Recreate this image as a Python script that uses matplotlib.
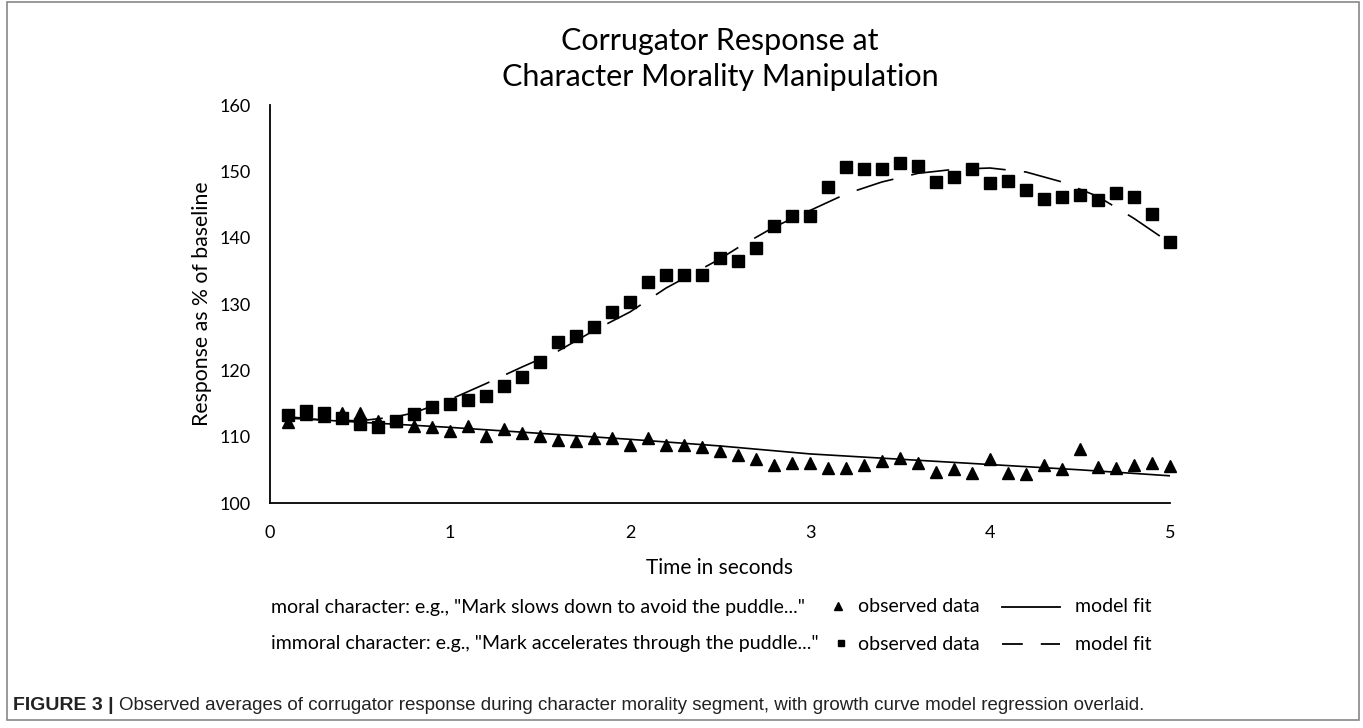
import matplotlib
matplotlib.use("Agg")
import matplotlib.pyplot as plt
from matplotlib.lines import Line2D
from matplotlib.patches import Rectangle

plt.rcParams['font.family'] = ['Lato', 'DejaVu Sans']

# observed averages, sampled every 0.1 s
time_s = [round(0.1 * i, 1) for i in range(1, 51)]

moral_obs = [112.2, 113.4, 113.1, 113.6, 113.6, 112.4, 112.3, 111.6, 111.4, 110.9,
             111.6, 110.1, 111.2, 110.5, 110.1, 109.5, 109.4, 109.75, 109.8, 108.7,
             109.75, 108.7, 108.7, 108.5, 107.9, 107.2, 106.6, 105.7, 106.0, 106.0,
             105.3, 105.3, 105.7, 106.4, 106.8, 106.0, 104.6, 105.2, 104.5, 106.7,
             104.5, 104.4, 105.7, 105.2, 108.2, 105.4, 105.3, 105.7, 106.1, 105.6]

immoral_obs = [113.2, 113.8, 113.5, 112.8, 111.9, 111.4, 112.3, 113.4, 114.4, 115.0,
               115.5, 116.2, 117.7, 119.0, 121.2, 124.2, 125.2, 126.6, 128.8, 130.3,
               133.3, 134.4, 134.4, 134.4, 136.9, 136.5, 138.5, 141.7, 143.2, 143.3,
               147.6, 150.6, 150.4, 150.3, 151.2, 150.8, 148.4, 149.2, 150.3, 148.2,
               148.6, 147.2, 145.8, 146.2, 146.4, 145.7, 146.8, 146.1, 143.5, 139.3]

# model fit curves read at coarser steps
moral_fit_t = [0.1, 1.0, 2.0, 2.5, 3.0, 3.5, 4.0, 4.5, 5.0]
moral_fit = [112.8, 111.4, 109.6, 108.6, 107.4, 106.6, 105.8, 105.0, 104.1]

immoral_fit_t = [0.1, 0.3, 0.5, 0.7, 0.8, 1.0, 1.2, 1.4, 1.6, 1.8, 2.0, 2.2, 2.5,
                 2.6, 2.8, 3.0, 3.2, 3.4, 3.6, 3.8, 4.0, 4.2, 4.4, 4.6, 4.8, 5.0]
immoral_fit = [113.0, 112.5, 112.4, 113.0, 113.6, 115.6, 118.0, 120.5, 122.9, 126.0,
               128.8, 132.4, 136.8, 138.5, 141.6, 144.1, 146.6, 148.4, 149.7, 150.3,
               150.5, 149.9, 148.4, 146.2, 142.9, 139.2]

y_ticks = [100, 110, 120, 130, 140, 150, 160]
x_ticks = [0, 1, 2, 3, 4, 5]

W, H = 1363, 728
fig = plt.figure(figsize=(W / 100, H / 100), dpi=100)

ax = fig.add_axes([270 / W, 1 - 503 / H, 900 / W, 398 / H])
ax.plot(immoral_fit_t, immoral_fit, color='black', lw=1.2, dashes=(23, 11))
ax.plot(moral_fit_t, moral_fit, color='black', lw=1.2)
ax.plot(time_s, moral_obs, ls='none', marker='^', ms=8.5, color='black', clip_on=False)
ax.plot(time_s, immoral_obs, ls='none', marker='s', ms=8, color='black', clip_on=False)

ax.set_xlim(0, 5)
ax.set_ylim(100, 160)
ax.set_xticks(x_ticks)
ax.set_yticks(y_ticks)
ax.tick_params(length=0, labelsize=13, pad=14)
ax.tick_params(axis='x', pad=16)
for side in ['top', 'right']:
    ax.spines[side].set_visible(False)
for side in ['left', 'bottom']:
    ax.spines[side].set_linewidth(1.3)
ax.set_xlabel('Time in seconds', fontsize=15, labelpad=12)
ax.set_ylabel('Response as % of baseline', fontsize=15.3, labelpad=5)

# overlay in pixel coordinates for title, legend rows, caption and frame
ov = fig.add_axes([0, 0, 1, 1])
ov.set_xlim(0, W)
ov.set_ylim(H, 0)
ov.axis('off')
ov.add_patch(Rectangle((7, 2), W - 11, 718, fill=False, ec='#888888', lw=1.2))

ov.text(720, 41, 'Corrugator Response at', fontsize=22, ha='center', va='center')
ov.text(720, 77, 'Character Morality Manipulation', fontsize=22, ha='center', va='center')

leg_fs = 14
row1, row2 = 607, 644
ov.text(271, row1, 'moral character: e.g., "Mark slows down to avoid the puddle..."',
        fontsize=leg_fs, va='center')
ov.add_line(Line2D([838], [row1 - 1], marker='^', ms=6, color='black'))
ov.text(858, row1, 'observed data', fontsize=leg_fs, va='center')
ov.add_line(Line2D([1002, 1060], [row1, row1], color='black', lw=1.3))
ov.text(1075, row1, 'model fit', fontsize=leg_fs, va='center')

ov.text(271, row2, 'immoral character: e.g., "Mark accelerates through the puddle..."',
        fontsize=leg_fs, va='center')
ov.add_line(Line2D([841], [row2 - 1], marker='s', ms=5, color='black'))
ov.text(858, row2, 'observed data', fontsize=leg_fs, va='center')
ov.add_line(Line2D([1002, 1060], [row2, row2], color='black', lw=1.3, dashes=(11.5, 10)))
ov.text(1075, row2, 'model fit', fontsize=leg_fs, va='center')

cap_family = ['Liberation Sans', 'DejaVu Sans']
t1 = ov.text(13, 705, 'FIGURE 3 |', fontsize=14, fontweight='bold',
             family=cap_family, va='center', color='#222222')
fig.canvas.draw()
bb = t1.get_window_extent(renderer=fig.canvas.get_renderer())
ov.text(bb.x1 + 5, 705,
        'Observed averages of corrugator response during character morality segment, '
        'with growth curve model regression overlaid.',
        fontsize=13.5, family=cap_family, va='center', color='#222222')

fig.savefig('out.png', dpi=100)
